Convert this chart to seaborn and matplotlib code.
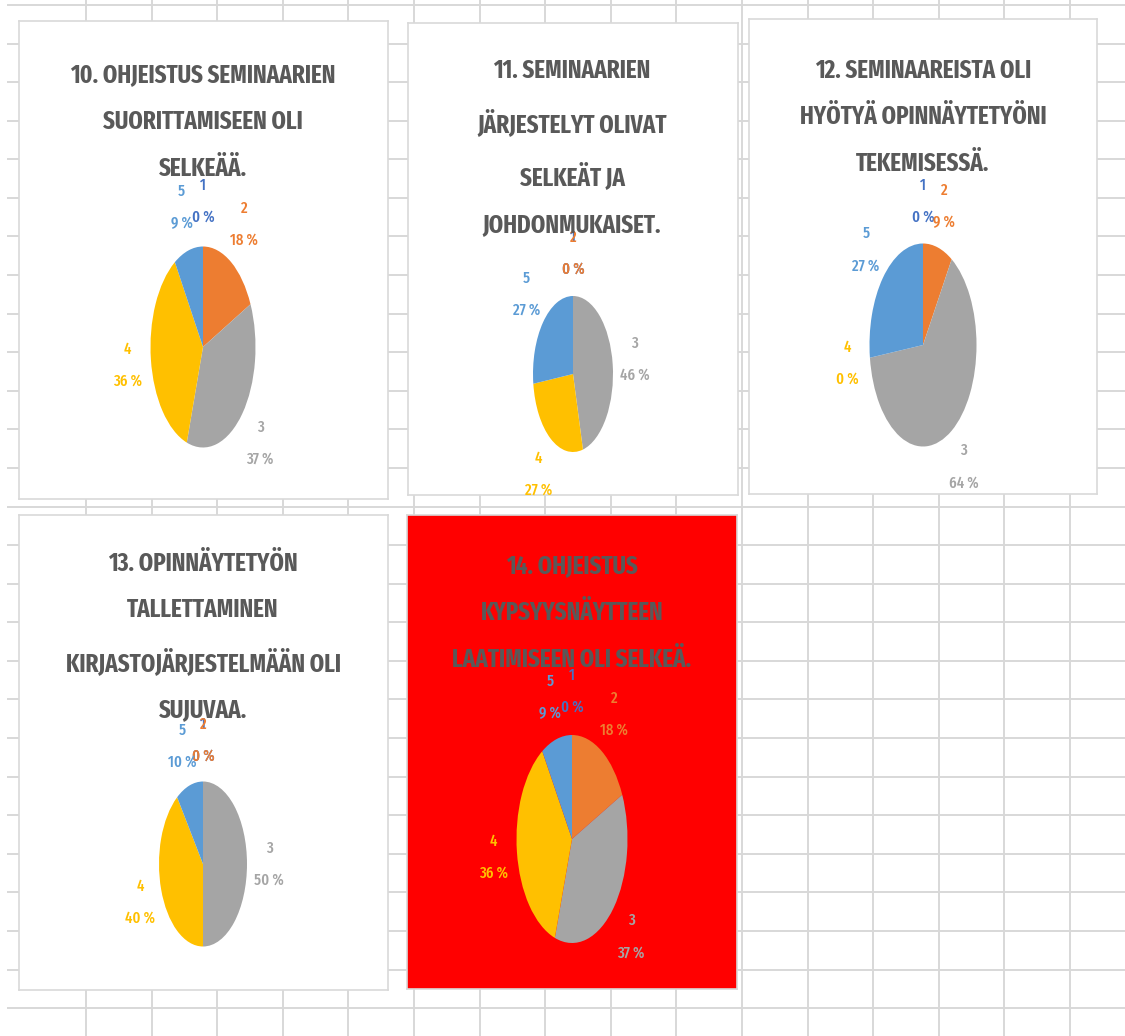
"""Excel-style survey pie charts (questions 10-14), redrawn with seaborn/matplotlib."""

import numpy as np
import matplotlib
matplotlib.use("Agg")
import matplotlib.pyplot as plt
import seaborn as sns

# ---- data -------------------------------------------------------------
CATEGORIES = ["1", "2", "3", "4", "5"]

TITLES = [
    "10. OHJEISTUS SEMINAARIEN\nSUORITTAMISEEN OLI\nSELKEÄÄ.",
    "11. SEMINAARIEN\nJÄRJESTELYT OLIVAT\nSELKEÄT JA\nJOHDONMUKAISET.",
    "12. SEMINAAREISTA OLI\nHYÖTYÄ OPINNÄYTETYÖNI\nTEKEMISESSÄ.",
    "13. OPINNÄYTETYÖN\nTALLETTAMINEN\nKIRJASTOJÄRJESTELMÄÄN OLI\nSUJUVAA.",
    "14. OHJEISTUS\nKYPSYYSNÄYTTEEN\nLAATIMISEEN OLI SELKEÄ.",
]

PCT_Q10 = [0, 18, 37, 36, 9]
PCT_Q11 = [0, 0, 46, 27, 27]
PCT_Q12 = [0, 9, 64, 0, 27]
PCT_Q13 = [0, 0, 50, 40, 10]
PCT_Q14 = [0, 18, 37, 36, 9]
SERIES = [PCT_Q10, PCT_Q11, PCT_Q12, PCT_Q13, PCT_Q14]

# ---- layout (pixels of the 1125x1036 screenshot) ----------------------
W, H = 1125, 1036
PANELS = [(19, 21, 369, 478), (408, 23, 330, 472), (749, 19, 348, 475),
          (19, 515, 369, 475), (407, 515, 330, 474)]
PANEL_FACE = ["white", "white", "white", "white", "#ff0000"]
TITLE_CENTER = [(203, 122), (572, 148), (923, 117), (203, 637), (572, 613)]
PIE_BOX = [(203, 347, 105, 201), (573, 374, 80, 156), (923, 345, 107, 203),
           (203, 864, 88, 165), (572, 839, 111, 208)]
LABEL_DIST = [1.45, 1.55, 1.42, 1.5, 1.42]

sns.set_theme(style="white")
plt.rcParams["font.family"] = ["Fira Sans Extra Condensed", "DejaVu Sans"]
TITLE_SIZE = 18
LABEL_SIZE = 11.5

PALETTE = sns.color_palette(["#4472C4", "#ED7D31", "#A5A5A5", "#FFC000", "#5B9BD5"])
TITLE_COLOR = "#595959"

fig = plt.figure(figsize=(W / 100, H / 100), dpi=100)
fig.patch.set_facecolor("white")


def px_axes(x, y, w, h):
    return fig.add_axes([x / W, 1 - (y + h) / H, w / W, h / H])


# spreadsheet cell grid in the background
bg = px_axes(7, 0, W - 7, H)
bg.set_xlim(7, W)
bg.set_ylim(H, 0)
bg.set_xticks(np.arange(86, W, 65.6))
bg.set_yticks(np.arange(5, H, 38.58))
bg.grid(True, color="#d8d8d8", lw=1.4)
bg.tick_params(length=0, labelbottom=False, labelleft=False)
for s in bg.spines.values():
    s.set_visible(False)

for i, values in enumerate(SERIES):
    x, y, w, h = PANELS[i]
    ax = px_axes(x, y, w, h)
    ax.set_facecolor(PANEL_FACE[i])
    ax.set_xticks([])
    ax.set_yticks([])
    for s in ax.spines.values():
        s.set_color("#d9d9d9")
        s.set_linewidth(1.2)

    tx, ty = TITLE_CENTER[i]
    fig.text(tx / W, 1 - ty / H, TITLES[i], ha="center", va="center",
             fontsize=TITLE_SIZE, fontweight="bold", color=TITLE_COLOR,
             linespacing=2.12)

    cx, cy, pw, ph = PIE_BOX[i]
    pax = px_axes(cx - pw / 2, cy - ph / 2, pw, ph)
    labels = [f"{c}\n{v} %" for c, v in zip(CATEGORIES, values)]
    wedges, texts = pax.pie(values, labels=labels, colors=PALETTE,
                            startangle=90, counterclock=False,
                            labeldistance=LABEL_DIST[i],
                            wedgeprops=dict(linewidth=0),
                            textprops=dict(fontsize=LABEL_SIZE, fontweight="medium",
                                           linespacing=2.25))
    pax.set_aspect("auto")
    pax.set_xlim(-1, 1)
    pax.set_ylim(-1, 1)
    pax.patch.set_alpha(0)
    for t, col in zip(texts, PALETTE):
        t.set_color(col)
        t.set_ha("center")
        t.set_va("center")

fig.savefig("out.png", dpi=100)
